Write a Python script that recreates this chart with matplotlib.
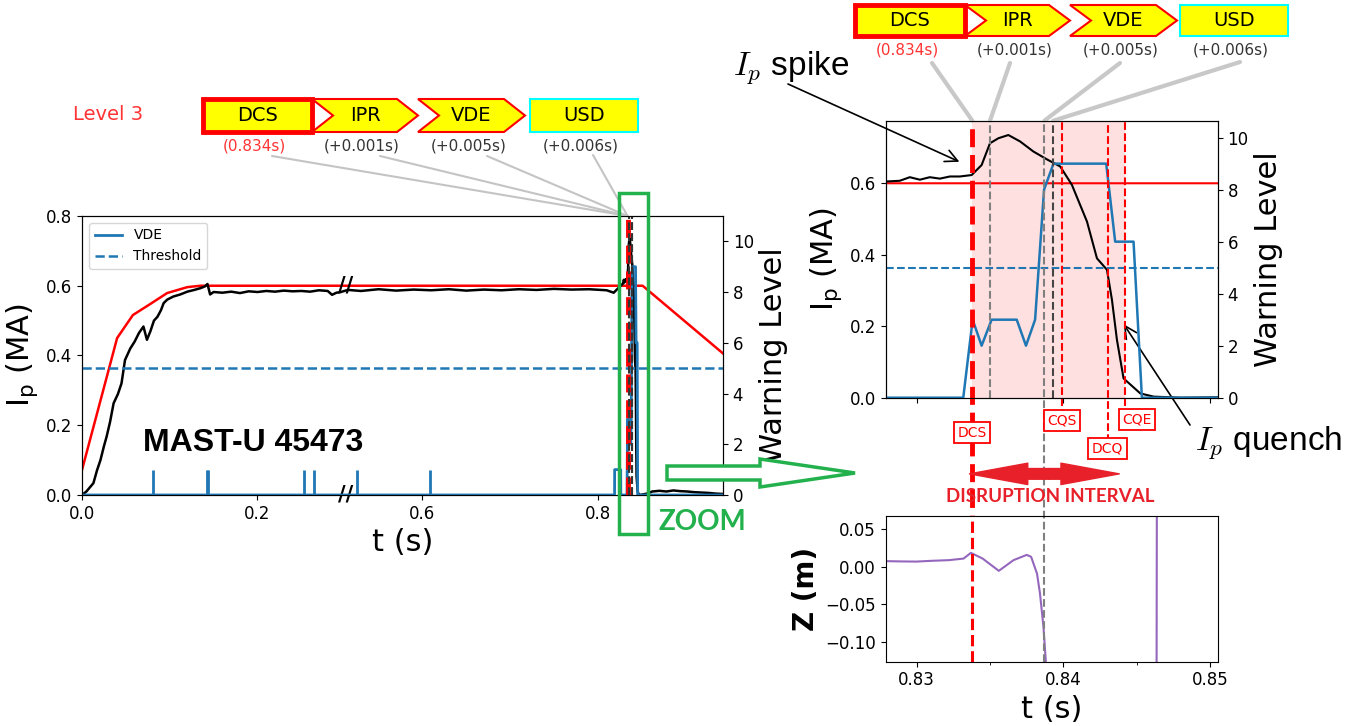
import numpy as np
import matplotlib.pyplot as plt
from matplotlib.patches import Polygon, Rectangle, FancyArrow

plt.rcParams['mathtext.fontset'] = 'cm'
plt.rcParams['font.family'] = ['DejaVu Sans']

W, H = 1367, 726

# plasma current (MA)
ip_t = [0.000, 0.005, 0.010, 0.013, 0.017, 0.021, 0.025, 0.028, 0.032, 0.036,
        0.041, 0.045, 0.049, 0.055, 0.060, 0.065, 0.070, 0.074, 0.078, 0.082,
        0.086, 0.090, 0.093, 0.097, 0.104, 0.112, 0.120, 0.128, 0.135, 0.140,
        0.143, 0.146, 0.150, 0.160, 0.170, 0.180, 0.190, 0.200, 0.210, 0.220,
        0.230, 0.240, 0.250, 0.260, 0.270, 0.280, 0.285, 0.290, 0.295,
        0.515, 0.530, 0.550, 0.570, 0.590, 0.610, 0.630, 0.650, 0.670, 0.690,
        0.710, 0.730, 0.750, 0.770, 0.790, 0.810, 0.818, 0.824,
        0.82795, 0.82886, 0.82954, 0.83023, 0.83090, 0.83159, 0.83227, 0.83295,
        0.83375, 0.83443, 0.83500, 0.83557, 0.83625, 0.83705, 0.83795, 0.83887,
        0.83978, 0.84057, 0.84160, 0.84228, 0.84296, 0.84330, 0.84364, 0.84409,
        0.84523, 0.84614, 0.84800, 0.85600, 0.86200, 0.87000, 0.87800, 0.88600,
        0.89400, 0.90200, 0.91000, 0.91800, 0.92600, 0.93400, 0.94200]
ip = [0.000, 0.010, 0.025, 0.034, 0.070, 0.100, 0.140, 0.167, 0.210, 0.263,
      0.290, 0.320, 0.387, 0.420, 0.440, 0.465, 0.483, 0.445, 0.470, 0.500,
      0.511, 0.530, 0.550, 0.560, 0.569, 0.575, 0.583, 0.588, 0.593, 0.598,
      0.605, 0.575, 0.582, 0.580, 0.583, 0.579, 0.584, 0.582, 0.585, 0.583,
      0.586, 0.584, 0.585, 0.583, 0.587, 0.585, 0.574, 0.580, 0.582,
      0.588, 0.585, 0.590, 0.586, 0.589, 0.587, 0.590, 0.586, 0.589, 0.587,
      0.590, 0.588, 0.591, 0.589, 0.590, 0.587, 0.580, 0.595,
      0.605, 0.607, 0.617, 0.610, 0.617, 0.613, 0.619, 0.619,
      0.623, 0.651, 0.712, 0.726, 0.735, 0.717, 0.689, 0.667,
      0.647, 0.596, 0.493, 0.390, 0.358, 0.274, 0.162, 0.054,
      0.012, 0.003, 0.000, 0.004, 0.010, 0.012, 0.010, 0.013,
      0.011, 0.010, 0.008, 0.007, 0.006, 0.004, 0.003]

# reference current (red)
ref_t = [0.000, 0.040, 0.058, 0.078, 0.097, 0.120, 0.135, 0.851, 0.943]
ref_ip = [0.072, 0.450, 0.516, 0.548, 0.579, 0.596, 0.600, 0.600, 0.405]

# VDE warning level (blue)
warn_t = [0.000, 0.819, 0.8191, 0.826, 0.8261, 0.83318, 0.83382, 0.83443, 0.83511,
          0.83682, 0.83745, 0.83807, 0.83868, 0.83932, 0.84291, 0.84352, 0.84477,
          0.84534, 0.943]
warn = [0, 0, 1, 1, 0, 0, 3, 2, 3, 3, 2, 3, 8, 9, 9, 6, 6, 0, 0]
blip_t = [0.081, 0.1425, 0.1438, 0.253, 0.264, 0.525, 0.609]
blip_level = 1
threshold = 5

# vertical position Z (m)
z_t = [0.8279, 0.8290, 0.8300, 0.8310, 0.8322, 0.8332, 0.8337, 0.8345, 0.8356,
       0.8366, 0.8375, 0.8378, 0.8382, 0.8384, 0.83864, 0.8388, 0.8389, 0.8463, 0.8464]
z = [0.0076, 0.0072, 0.0070, 0.0080, 0.0089, 0.0110, 0.0186, 0.0110, -0.0053,
     0.0089, 0.0159, 0.0133, -0.0090, -0.0350, -0.0800, -0.1260, -0.2000, -0.6000, 0.6000]

# event times
stages = ['DCS', 'IPR', 'VDE', 'USD']
stage_dt = ['(0.834s)', '(+0.001s)', '(+0.005s)', '(+0.006s)']
stage_t = [0.8338, 0.8350, 0.8387, 0.8393]
cqs_t, dcq_t, cqe_t = 0.8399, 0.8430, 0.8442


def px(x, y):
    return x / W, 1 - y / H


def fwd(t):
    return np.interp(t, [0.0, 0.3, 0.512, 1.2], [0.0, 0.3, 0.3, 0.988])


def inv(u):
    return np.interp(u, [0.0, 0.3, 0.30001, 0.988], [0.0, 0.3, 0.51201, 1.2])


fig = plt.figure(figsize=(13.67, 7.26), dpi=100)

# ---------------- left: whole shot ----------------
ax = fig.add_axes([0.0600, 0.3182, 0.4689, 0.3843])
ax.set_xscale('function', functions=(fwd, inv))
ax.plot(ref_t, ref_ip, color='red', lw=1.8)
ax.plot(ip_t, ip, color='black', lw=1.8)
ax.set_xlim(0, 0.9426)
ax.set_ylim(0, 0.8)
ax.set_xticks([0, 0.2, 0.6, 0.8], ['0.0', '0.2', '0.6', '0.8'])
ax.set_yticks([0, 0.2, 0.4, 0.6, 0.8])
ax.tick_params(labelsize=12)
ax.set_xlabel('t (s)', fontsize=22)
ax.set_ylabel(r'$\mathregular{I_p}$ (MA)', fontsize=22)
ax.text(0.3, 0.0, '//', fontsize=15, fontweight='bold', ha='center', va='center', clip_on=False)
ax.text(0.3, 0.6, '//', fontsize=15, fontweight='bold', ha='center', va='center')
ax.text(0.195, 0.149, 'MAST-U 45473', fontsize=23, fontweight='bold',
        family='Liberation Sans', ha='center', va='center')

ax2 = ax.twinx()
ax2.plot(warn_t, warn, color='tab:blue', lw=2, label='VDE')
ax2.vlines(blip_t, 0, blip_level, color='tab:blue', lw=2)
ax2.axhline(threshold, color='tab:blue', ls='--', lw=1.8, label='Threshold')
ax2.axvline(stage_t[0], color='red', ls='--', lw=3.5)
for t in stage_t[1:]:
    ax2.axvline(t, color='#333333', ls='--', lw=1.5)
ax2.set_ylim(0, 11)
ax2.set_yticks([0, 2, 4, 6, 8, 10])
ax2.tick_params(labelsize=12)
ax2.set_ylabel('Warning Level', fontsize=22)
ax2.legend(loc='upper left', fontsize=10)

# ---------------- right top: zoom on the disruption ----------------
axz = fig.add_axes([0.6479, 0.4522, 0.2429, 0.3815])
axz.axvspan(stage_t[0], cqe_t, color='red', alpha=0.12, lw=0)
axz.plot(ref_t, ref_ip, color='red', lw=1.5)
axz.plot(ip_t, ip, color='black', lw=1.5)
axz.set_xlim(0.8279, 0.8505)
axz.set_ylim(0, 0.775)
axz.set_xticks([0.83, 0.84, 0.85], [])
axz.set_yticks([0, 0.2, 0.4, 0.6])
axz.tick_params(labelsize=12)
axz.set_ylabel(r'$\mathregular{I_p}$ (MA)', fontsize=22)

axz2 = axz.twinx()
axz2.plot(warn_t, warn, color='tab:blue', lw=1.8)
axz2.axhline(threshold, color='tab:blue', ls='--', lw=1.5)
axz2.set_ylim(0, 10.65)
axz2.set_yticks([0, 2, 4, 6, 8, 10])
axz2.tick_params(labelsize=12)
axz2.set_ylabel('Warning Level', fontsize=22)

axz2.axvline(stage_t[0], ymin=-0.953, ymax=1, color='red', ls='--', lw=3.5, clip_on=False)
axz2.axvline(stage_t[1], color='gray', ls='--', lw=1.5)
axz2.axvline(stage_t[2], ymin=-0.953, ymax=1, color='gray', ls='--', lw=1.5, clip_on=False)
axz2.axvline(stage_t[3], color='#444444', ls='--', lw=1.5)
axz2.axvline(cqs_t, ymin=-0.07, ymax=1, color='red', ls='--', lw=1.5, clip_on=False)
axz2.axvline(dcq_t, ymin=-0.16, ymax=1, color='red', ls='--', lw=1.5, clip_on=False)
axz2.axvline(cqe_t, ymin=-0.07, ymax=1, color='red', ls='--', lw=1.5, clip_on=False)

xt = axz2.get_xaxis_transform()
for name, tx, yy in [('DCS', stage_t[0], -0.127), ('CQS', cqs_t, -0.084),
                     ('DCQ', dcq_t, -0.185), ('CQE', cqe_t + 0.0008, -0.080)]:
    axz2.text(tx, yy, name, transform=xt, fontsize=10, color='red', ha='center', va='center',
              zorder=6, bbox=dict(boxstyle='square,pad=0.25', fc='white', ec='red', lw=1.3))

mid = (stage_t[0] + cqe_t) / 2
for end in (stage_t[0] - 0.0002, cqe_t - 0.0004):
    axz2.annotate('', xy=(end, -0.275), xycoords=xt, xytext=(mid, -0.275), textcoords=xt,
                  annotation_clip=False,
                  arrowprops=dict(arrowstyle='simple,head_length=3,head_width=1.1,tail_width=0.55',
                                  color='#e8202a', mutation_scale=14, shrinkA=0, shrinkB=0))
axz2.text(mid + 0.0001, -0.355, 'DISRUPTION INTERVAL', transform=xt, fontsize=13.5,
          fontweight='bold', family='Lato', color='#e8202a', ha='center', va='center')

axz.annotate('', xy=(0.83309, 0.657), xytext=px(788, 84), textcoords='figure fraction',
             annotation_clip=False,
             arrowprops=dict(arrowstyle='->', color='black', lw=1.2, mutation_scale=22, shrinkA=0))
axz.annotate('', xy=(0.8440, 0.212), xytext=px(1190, 425), textcoords='figure fraction',
             annotation_clip=False,
             arrowprops=dict(arrowstyle='->', color='black', lw=1.2, mutation_scale=22, shrinkA=0))
fig.text(*px(733, 68), r'$I_p$ spike', fontsize=24, family='Liberation Sans', va='center')
fig.text(*px(1195, 443), r'$I_p$ quench', fontsize=24, family='Liberation Sans', va='center')

# ---------------- right bottom: Z ----------------
axb = fig.add_axes([0.6479, 0.0886, 0.2429, 0.2011])
axb.plot(z_t, z, color='tab:purple', lw=1.5)
axb.axvline(stage_t[0], color='red', ls='--', lw=2.2)
axb.axvline(stage_t[2], color='gray', ls='--', lw=1.5)
axb.set_xlim(0.8279, 0.8505)
axb.set_ylim(-0.126, 0.068)
axb.set_xticks([0.83, 0.84, 0.85])
axb.set_xticks([0.835, 0.845], minor=True)
axb.set_yticks([0.05, 0.0, -0.05, -0.10])
axb.tick_params(labelsize=12)
axb.set_xlabel('t (s)', fontsize=22)
axb.set_ylabel('Z (m)', fontsize=20, fontweight='bold')

# ---------------- alarm chains ----------------
edge = ['red', 'red', 'red', 'cyan']
elw = [3.5, 1.5, 1.5, 1.5]


def chain(xs, yt, yb, starts, axis, targets, ytarget, lcol, llw):
    ym = (yt + yb) / 2
    n = 21
    for i, (x0, x1) in enumerate(xs):
        if i in (1, 2):
            pts = [(x0, yt), (x1 - n, yt), (x1, ym), (x1 - n, yb), (x0, yb), (x0 + n, ym)]
        else:
            pts = [(x0, yt), (x1, yt), (x1, yb), (x0, yb)]
        fig.add_artist(Polygon([px(*p) for p in pts], closed=True, fc='yellow',
                               ec=edge[i], lw=elw[i], transform=fig.transFigure))
        fig.text(*px((x0 + x1) / 2, ym), stages[i], fontsize=14, ha='center', va='center')
        fig.text(*px((x0 + x1) / 2 - 3, yb + 14), stage_dt[i], fontsize=11, ha='center',
                 va='center', color='#ff3333' if i == 0 else '#333333')
        axis.annotate('', xy=(targets[i], ytarget), xycoords=('data', 'axes fraction'),
                      xytext=px(*starts[i]), textcoords='figure fraction', annotation_clip=False,
                      arrowprops=dict(arrowstyle='-', color=lcol, lw=llw, shrinkA=0, shrinkB=0))


chain([(203, 312), (312, 418), (418, 525), (530, 638)], 99, 132,
      [(272, 156), (380, 156), (487, 156), (593, 155)], ax,
      [stage_t[0]] * 4, 1.0, '#c4c4c4', 1.5)
chain([(855, 965), (965, 1070), (1070, 1177), (1180, 1288)], 5, 36,
      [(932, 63), (1010, 63), (1120, 63), (1240, 62)], axz,
      stage_t, 1.0, '#c8c8c8', 3)
fig.text(*px(108, 114), 'Level 3', fontsize=14, color='#ff3333', ha='center', va='center')

# ---------------- zoom marker ----------------
green = '#22b14c'
fig.add_artist(Rectangle(px(619, 534), 29 / W, 341 / H, fill=False, ec=green, lw=2.5,
                         transform=fig.transFigure))
fig.add_artist(FancyArrow(6.67, 2.53, 1.88, 0, width=0.14, head_width=0.28, head_length=0.95,
                          length_includes_head=True, fc='white', ec=green, lw=2.5,
                          transform=fig.dpi_scale_trans))
fig.text(*px(702, 522), 'ZOOM', fontsize=20, fontweight='bold', family='Lato', color=green,
         ha='center', va='center')

fig.savefig('out.png', dpi=100)
